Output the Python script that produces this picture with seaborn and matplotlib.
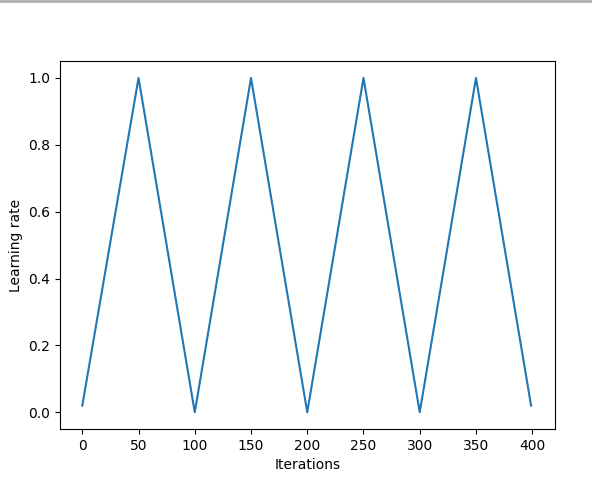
import numpy as np
import pandas as pd
import matplotlib
matplotlib.use("Agg")
import matplotlib.pyplot as plt
import seaborn as sns

# triangular cyclic learning rate, vertices
iterations = [0, 50, 100, 150, 200, 250, 300, 350, 399]
learning_rate = [0.02, 1.0, 0.0, 1.0, 0.0, 1.0, 0.0, 1.0, 0.02]

df = pd.DataFrame({"Iterations": iterations, "Learning rate": learning_rate})

fig = plt.figure(figsize=(5.92, 4.82), dpi=100)
ax = fig.add_axes([0.101, 0.11, 0.836, 0.763])
sns.lineplot(data=df, x="Iterations", y="Learning rate", ax=ax, color="#1f77b4", linewidth=1.5)
ax.set_xticks([0, 50, 100, 150, 200, 250, 300, 350, 400])
ax.set_yticks([0.0, 0.2, 0.4, 0.6, 0.8, 1.0])
ax.set_xlim(-20, 420)
ax.set_ylim(-0.05, 1.05)
ax.set_xlabel("Iterations")
ax.set_ylabel("Learning rate")

# screenshot edge
fig.add_artist(plt.Line2D([0, 1], [0.998, 0.998], color="#b0b0b0", linewidth=2, transform=fig.transFigure))

fig.savefig("out.png", dpi=100)
